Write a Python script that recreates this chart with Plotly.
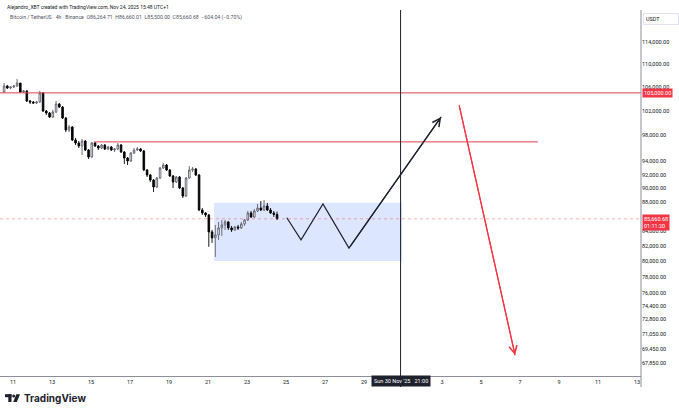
import numpy as np
import pandas as pd
import plotly.graph_objects as go

# ---------------- data ----------------
bar_start = "2025-11-10 13:00"   # first 4h bar (UTC+1)
n_bars = 85

opens = [105148, 106173, 105830, 106001, 106173, 106690, 105148, 105318, 103628, 103462,
         103295, 103462, 104978, 101966, 101638, 100983, 101802, 103128, 102629, 100820,
         98884, 99365, 97298, 96827, 96359, 97141, 95738, 94660, 96827, 96359,
         96048, 96515, 95892, 96203, 95738, 95892, 96515, 95428, 94507, 94050,
         95275, 95738, 95892, 95583, 92692, 91945, 91205, 90185, 91500, 92992,
         93444, 92692, 91796, 90910, 91648, 90040, 88877, 91500, 92692, 92842,
         91945, 86889, 86469, 86191, 83862, 83058, 83459, 84404, 84813, 85225,
         84404, 84132, 84540, 84404, 84950, 85500, 86469, 85913, 86749, 87170,
         86889, 87452, 86889, 86469, 86264.71]
closes = [106173, 105830, 106001, 106173, 106690, 105148, 105318, 103628, 103462, 103295,
          103462, 104978, 101966, 101638, 100983, 101802, 103128, 102629, 100820, 98884,
          99365, 97298, 96827, 96359, 97141, 95738, 94660, 96827, 96359, 96048,
          96515, 95892, 96203, 95738, 95892, 96515, 95428, 94507, 94050, 95275,
          95738, 95892, 95583, 92692, 91945, 91205, 90185, 91500, 92992, 93444,
          92692, 91796, 90910, 91648, 90040, 88877, 91500, 92692, 92842, 91945,
          86889, 86469, 86191, 83862, 83058, 83459, 84404, 84813, 85225, 84404,
          84132, 84540, 84404, 84950, 85500, 86469, 85913, 86749, 87170, 86889,
          87452, 86889, 86469, 86265, 85660.68]
highs = [106690, 106345, 106173, 106345, 107380, 106690, 105488, 105488, 103795, 103628,
         103628, 105318, 105148, 102130, 101802, 102130, 103628, 103295, 102795, 100983,
         99685, 99526, 97613, 97141, 97455, 97298, 95892, 96984, 96984, 96515,
         96671, 96671, 96359, 96359, 96048, 96827, 96671, 95583, 94660, 95428,
         96048, 96203, 96048, 95738, 92842, 92094, 91352, 91648, 93143, 93746,
         93595, 92842, 91945, 91796, 91796, 90185, 91648, 93293, 93143, 92992,
         92094, 87170, 86609, 86330, 84132, 84813, 85225, 85500, 85500, 85362,
         84677, 84677, 84813, 85225, 85638, 86749, 86749, 87030, 87734, 88162,
         88305, 87876, 87170, 86749, 86660.01]
lows = [104978, 105660, 105660, 105830, 106001, 104978, 104978, 103462, 103128, 103128,
        103128, 103295, 101802, 101310, 100820, 100820, 101638, 102464, 100657, 98564,
        98564, 97141, 96515, 96048, 94966, 95583, 94354, 94507, 96203, 95738,
        95892, 95738, 95738, 95583, 95428, 95738, 95275, 93595, 93444, 93898,
        95120, 95583, 95428, 92543, 91648, 90910, 89452, 90040, 91352, 92842,
        92543, 91648, 90040, 90763, 89894, 88590, 88733, 91352, 92393, 91796,
        86749, 86191, 85913, 81864, 82393, 80548, 82780, 83325, 84132, 84132,
        83862, 83997, 84132, 84268, 84677, 85362, 85775, 85775, 86609, 86749,
        86749, 86749, 86330, 85913, 85500]

last_price = 85660.68
resistance_top = 105000
resistance_mid = 97000
mid_line_times = ["2025-11-15 03:30", "2025-12-07 22:00"]
range_box_times = ["2025-11-21 07:30", "2025-11-30 23:00"]
range_box_prices = [80000, 87900]
zigzag_times = ["2025-11-25 01:00", "2025-11-25 18:30", "2025-11-26 21:30",
                "2025-11-28 05:30", "2025-12-02 23:00"]
zigzag_prices = [85800, 82800, 87750, 81700, 101000]
drop_times = ["2025-12-03 21:00", "2025-12-06 18:00"]
drop_prices = [103000, 68700]
cursor_time = "2025-11-30 21:00"
cursor_label = "Sun 30 Nov '25   21:00"

y_ticks = [114000, 110000, 106000, 102000, 98000, 94000, 92000, 90000, 88000,
           84000, 82000, 80000, 78000, 76000, 74400, 72800, 71050, 69450, 67850]
x_tick_dates = ["2025-11-11", "2025-11-13", "2025-11-15", "2025-11-17", "2025-11-19",
                "2025-11-21", "2025-11-23", "2025-11-25", "2025-11-27", "2025-11-29",
                "2025-12-03", "2025-12-05", "2025-12-07", "2025-12-09", "2025-12-11",
                "2025-12-13"]
x_tick_labels = ["11", "13", "15", "17", "19", "21", "23", "25", "27", "29",
                 "3", "5", "7", "9", "11", "13"]
x_range = ["2025-11-10 08:00", "2025-12-13 04:55"]
y_range_prices = [66438, 120052]

header1 = "Alejandro_XBT created with TradingView.com, Nov 24, 2025 15:48 UTC+1"
header2 = ("Bitcoin / TetherUS · 4h · Binance  O86,264.71  H86,660.01  "
           "L85,500.00  C85,660.68  −604.04 (−0.70%)")

# ---------------- figure ----------------
times = pd.date_range(bar_start, periods=n_bars, freq="4h")

RED = "#f23645"
LINE_RED = "#e2424f"
INK = "#1e222d"
W, H = 679, 414
ML, MR, MT, MB = 0, 38, 10, 38
PW, PH = W - ML - MR, H - MT - MB


def px(xp):
    return (xp - ML) / PW


def py(yp):
    return (H - MB - yp) / PH


fig = go.Figure()

fig.add_trace(go.Candlestick(
    x=times, open=opens, high=highs, low=lows, close=closes,
    increasing=dict(line=dict(color="#5d606b", width=0.9), fillcolor="#ffffff"),
    decreasing=dict(line=dict(color="#000000", width=0.9), fillcolor="#000000"),
    whiskerwidth=0, hoverinfo="skip", showlegend=False))

fig.add_trace(go.Scatter(x=zigzag_times, y=zigzag_prices, mode="lines",
                         line=dict(color=INK, width=1.2), hoverinfo="skip",
                         showlegend=False))
fig.add_trace(go.Scatter(x=drop_times, y=drop_prices, mode="lines",
                         line=dict(color=RED, width=1.2), hoverinfo="skip",
                         showlegend=False))

shapes = [
    dict(type="rect", xref="x", yref="y", x0=range_box_times[0], x1=range_box_times[1],
         y0=range_box_prices[0], y1=range_box_prices[1],
         fillcolor="rgba(41,98,255,0.16)", line=dict(width=0), layer="below"),
    dict(type="line", xref="paper", yref="y", x0=0, x1=1, y0=resistance_top,
         y1=resistance_top, line=dict(color=LINE_RED, width=1)),
    dict(type="line", xref="x", yref="y", x0=mid_line_times[0], x1=mid_line_times[1],
         y0=resistance_mid, y1=resistance_mid, line=dict(color=LINE_RED, width=1)),
    dict(type="line", xref="paper", yref="y", x0=0, x1=1, y0=last_price, y1=last_price,
         line=dict(color="rgba(242,54,69,0.5)", width=0.8, dash="dot")),
    dict(type="line", xref="x", yref="paper", x0=cursor_time, x1=cursor_time,
         y0=py(387), y1=1, line=dict(color=INK, width=1)),
    dict(type="line", xref="paper", yref="paper", x0=1, x1=1, y0=py(387), y1=1,
         line=dict(color="#8c8f99", width=1)),
    # TradingView logo glyph
    dict(type="rect", xref="paper", yref="paper", x0=px(5), x1=px(11.5),
         y0=py(397.2), y1=py(394.2), fillcolor=INK, line=dict(width=0)),
    dict(type="rect", xref="paper", yref="paper", x0=px(8.3), x1=px(11.5),
         y0=py(402), y1=py(394.2), fillcolor=INK, line=dict(width=0)),
    dict(type="circle", xref="paper", yref="paper", x0=px(12.2), x1=px(15.2),
         y0=py(397.6), y1=py(394.6), fillcolor=INK, line=dict(width=0)),
    dict(type="path", xref="paper", yref="paper",
         path=f"M {px(16.3)} {py(394.2)} L {px(20)} {py(394.2)} L {px(16.8)} {py(402)} "
              f"L {px(13.2)} {py(402)} Z",
         fillcolor=INK, line=dict(width=0)),
]

annotations = [
    dict(x=zigzag_times[-1], y=float(np.log10(zigzag_prices[-1])),
         ax=zigzag_times[-2], ay=float(np.log10(zigzag_prices[-2])),
         xref="x", yref="y", axref="x", ayref="y", text="", showarrow=True,
         arrowhead=5, arrowsize=1.3, arrowwidth=1.2, arrowcolor=INK, standoff=0),
    dict(x=drop_times[-1], y=float(np.log10(drop_prices[-1])),
         ax=drop_times[-2], ay=float(np.log10(drop_prices[-2])),
         xref="x", yref="y", axref="x", ayref="y", text="", showarrow=True,
         arrowhead=5, arrowsize=1.3, arrowwidth=1.2, arrowcolor=RED, standoff=0),
    dict(x=px(5), y=py(7), xref="paper", yref="paper", xanchor="left", yanchor="middle",
         text=header1, showarrow=False, font=dict(size=5, color="#131722")),
    dict(x=px(8), y=py(17.5), xref="paper", yref="paper", xanchor="left", yanchor="middle",
         text=header2, showarrow=False, font=dict(size=5.2, color="#50535e")),
    dict(x=1, y=py(19), xref="paper", yref="paper", xanchor="left", yanchor="middle",
         xshift=2, text="USDT", showarrow=False, font=dict(size=5.5, color="#131722"),
         bordercolor="#e0e3eb", borderwidth=1, borderpad=2, width=30, align="left"),
    dict(x=1, y=float(np.log10(resistance_top)), xref="paper", yref="y",
         xanchor="left", yanchor="middle", xshift=1, text=f"{resistance_top:,.2f}",
         showarrow=False, bgcolor=RED, font=dict(size=5.5, color="white"), borderpad=1),
    dict(x=1, y=float(np.log10(last_price)), xref="paper", yref="y",
         xanchor="left", yanchor="top", xshift=1, yshift=5,
         text=f"{last_price:,.2f}<br>01:11:20", align="left",
         showarrow=False, bgcolor=RED, font=dict(size=5.5, color="white"), borderpad=1),
    dict(x=cursor_time, y=py(381), xref="x", yref="paper", xanchor="center",
         yanchor="middle", text=cursor_label, showarrow=False, bgcolor=INK,
         font=dict(size=5.5, color="white"), borderpad=2),
    dict(x=px(22), y=py(398), xref="paper", yref="paper", xanchor="left",
         yanchor="middle", text="<b>TradingView</b>", showarrow=False,
         font=dict(size=10, color=INK, family="Inter")),
]

fig.update_layout(
    width=W, height=H,
    margin=dict(l=ML, r=MR, t=MT, b=MB),
    paper_bgcolor="white", plot_bgcolor="white",
    font=dict(family="Roboto", size=5.5, color="#131722"),
    showlegend=False,
    shapes=shapes, annotations=annotations,
    xaxis=dict(type="date", range=x_range, rangeslider=dict(visible=False),
               showgrid=False, zeroline=False, tickvals=x_tick_dates,
               ticktext=x_tick_labels, ticks="", showline=True, linecolor="#8c8f99",
               linewidth=1, tickfont=dict(size=5.5, color="#131722")),
    yaxis=dict(type="log", side="right",
               range=[float(np.log10(y_range_prices[0])), float(np.log10(y_range_prices[1]))],
               tickvals=y_ticks, ticktext=[f"{v:,.2f}" for v in y_ticks],
               showgrid=False, zeroline=False, ticks="", showline=False,
               tickfont=dict(size=5.5, color="#131722")),
)

fig.write_html("out.html", config={"displayModeBar": False},
               post_script="document.body.style.margin='0px';")
